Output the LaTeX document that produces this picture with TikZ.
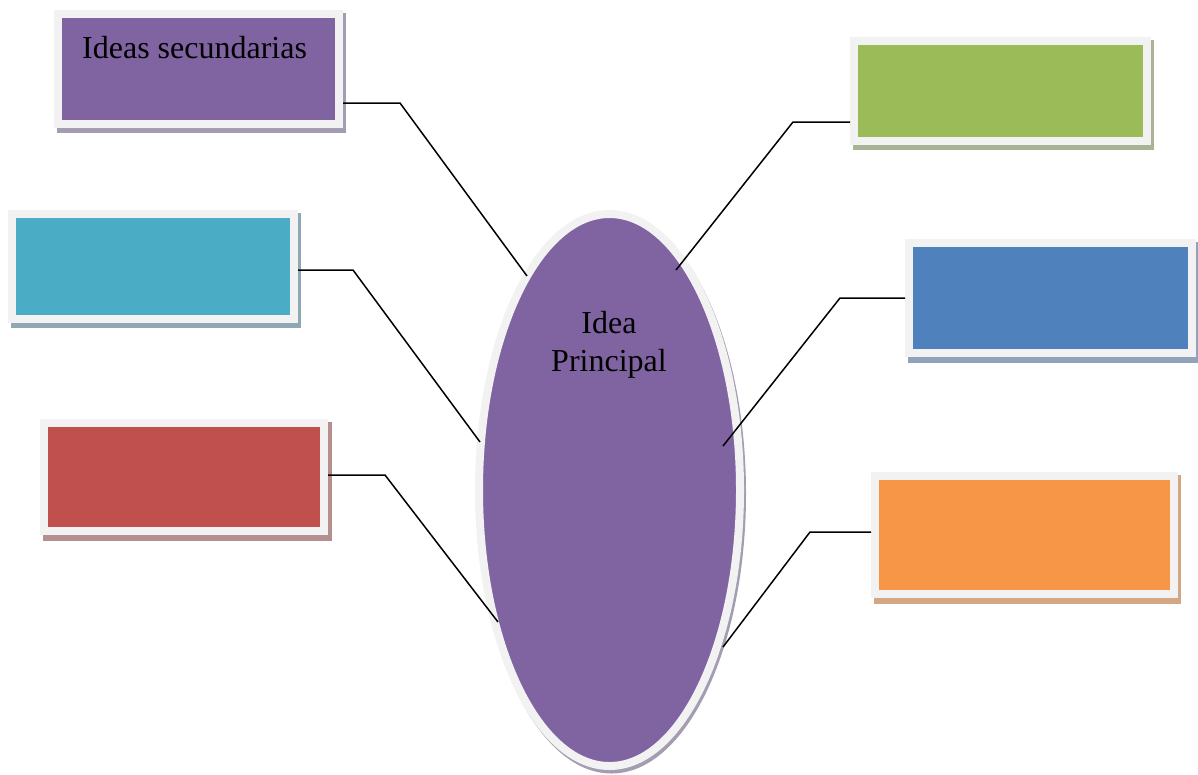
\documentclass[tikz,border=0pt]{standalone}
\usepackage{fontspec}
\setmainfont{Liberation Serif}
\usetikzlibrary{shapes.geometric}
\definecolor{cpurple}{HTML}{8064A2}
\definecolor{cgreen}{HTML}{9BBB59}
\definecolor{ccyan}{HTML}{4BACC6}
\definecolor{cblue}{HTML}{4F81BD}
\definecolor{cred}{HTML}{C0504D}
\definecolor{corange}{HTML}{F79646}
\definecolor{cframe}{HTML}{F2F2F2}
\definecolor{shpurple}{HTML}{A49DB2}
\definecolor{shgreen}{HTML}{A9B395}
\definecolor{shcyan}{HTML}{8FA9B4}
\definecolor{shblue}{HTML}{91A2BA}
\definecolor{shred}{HTML}{B58F8F}
\definecolor{shorange}{HTML}{D3A684}
\tikzset{
  colbox/.style={rectangle, draw=cframe, line width=8pt, inner sep=0pt},
  conn/.style={draw=black, line width=1.5pt},
  lbl/.style={font=\fontsize{32}{38}\selectfont, inner sep=0pt}
}
\begin{document}
\begin{tikzpicture}[x=1pt,y=-1pt]
\useasboundingbox (0,0) rectangle (1198,774);
% shadows
\fill[shpurple] (57,13) rectangle (346,133);
\fill[shgreen] (853,40) rectangle (1154,150);
\fill[shcyan] (11,213) rectangle (301,328);
\fill[shblue] (908,242) rectangle (1198,363);
\fill[shred] (43,422) rectangle (332,541);
\fill[shorange] (874,475) rectangle (1181,604);
\fill[shpurple] (611.5,493.5) ellipse [x radius=134.5, y radius=280];
% boxes
\node[colbox, fill=cpurple, minimum width=281pt, minimum height=110pt] (b1) at (198.5,69) {};
\node[colbox, fill=cgreen, minimum width=293pt, minimum height=100pt] (b2) at (1000.5,91) {};
\node[colbox, fill=ccyan, minimum width=282pt, minimum height=105pt] (b3) at (153,266.5) {};
\node[colbox, fill=cblue, minimum width=283pt, minimum height=110pt] (b4) at (1050.5,298) {};
\node[colbox, fill=cred, minimum width=280pt, minimum height=108pt] (b5) at (184,477) {};
\node[colbox, fill=corange, minimum width=299pt, minimum height=118pt] (b6) at (1024.5,535) {};
% ellipse
\node[ellipse, draw=cframe, fill=cpurple, line width=8pt, inner sep=0pt,
      minimum width=261pt, minimum height=552pt] (e) at (609.5,490) {};
% texts
\node[lbl, anchor=base west] (t1) at (82,58) {Ideas secundarias};
\node[lbl, anchor=base] (t2) at (609,333) {Idea};
\node[lbl, anchor=base] (t3) at (609,371) {Principal};
% connectors
\coordinate (k1) at (400,103);  \coordinate (c1) at (527,276);
\coordinate (k2) at (793,122);  \coordinate (c2) at (676,270);
\coordinate (k3) at (353,270);  \coordinate (c3) at (480,442);
\coordinate (k4) at (840,298);  \coordinate (c4) at (723,446);
\coordinate (k5) at (385,475);  \coordinate (c5) at (498,622);
\coordinate (k6) at (810,532);  \coordinate (c6) at (723,647);
\draw[conn] (b1.east |- k1) -- (k1) -- (c1);
\draw[conn] (b2.west |- k2) -- (k2) -- (c2);
\draw[conn] (b3.east |- k3) -- (k3) -- (c3);
\draw[conn] (b4.west |- k4) -- (k4) -- (c4);
\draw[conn] (b5.east |- k5) -- (k5) -- (c5);
\draw[conn] (b6.west |- k6) -- (k6) -- (c6);
\end{tikzpicture}
\end{document}
